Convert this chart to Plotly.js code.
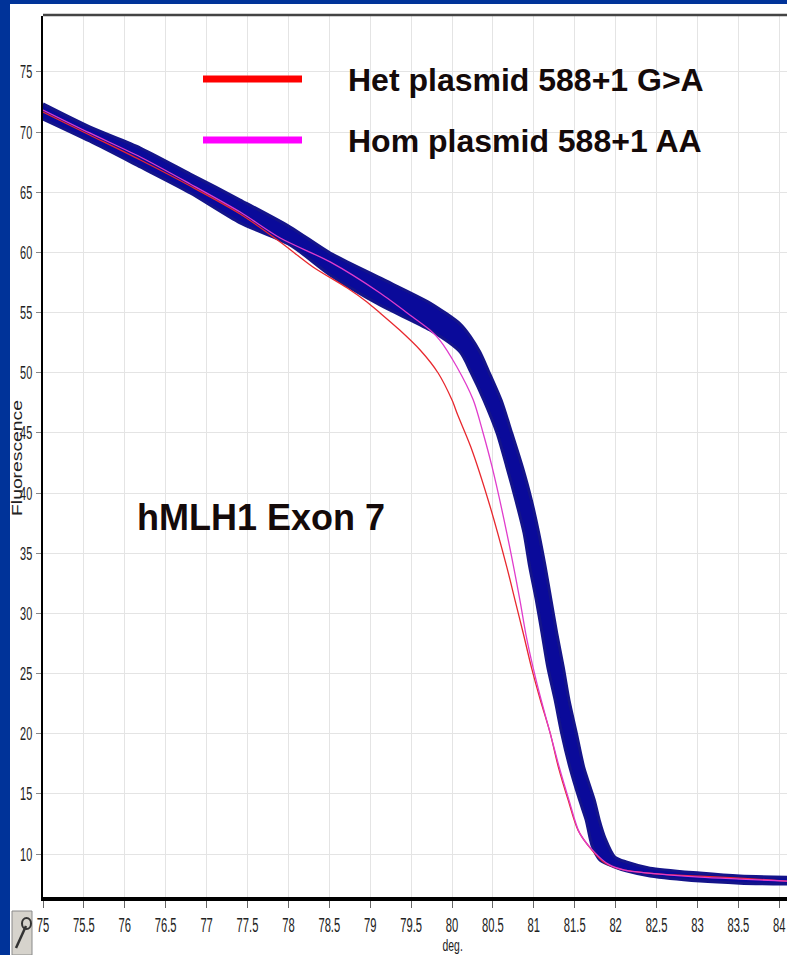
<!DOCTYPE html>
<html>
<head>
<meta charset="utf-8">
<script src="https://cdn.plot.ly/plotly-3.0.1.min.js"></script>
<style>
html,body{margin:0;padding:0;background:#003399;}
#chart{width:787px;height:955px;}
g.xtick{transform-box:fill-box;transform-origin:center;transform:scale(0.8,1.42);}
g.ytick{transform-box:fill-box;transform-origin:center;transform:scale(0.84,1.4);}
</style>
</head>
<body>
<div id="chart"></div>
<script>
// ---- data (deg. vs Fluorescence) ----
// blue band (many wild-type samples): upper/right edge and lower/left edge
const bandUpperX = [75.00,75.57,76.19,76.80,77.41,78.02,78.51,79.12,79.73,80.10,80.22,80.34,80.44,80.60,80.73,80.86,80.97,81.06,81.14,81.21,81.28,81.36,81.43,81.52,81.61,81.74,81.80,81.87,81.99,82.14,82.42,83.03,83.52,84.10];
const bandUpperY = [72.34,70.43,68.68,66.52,64.36,62.12,59.95,57.88,55.80,54.05,53.05,51.72,50.23,47.73,44.99,42.17,39.42,36.68,33.85,31.11,28.37,25.54,22.80,20.05,17.23,14.48,12.82,11.33,9.75,9.33,8.83,8.42,8.17,8.08];
const bandLowerX = [75.00,75.57,76.19,76.80,77.41,78.02,78.51,79.12,79.73,80.10,80.23,80.39,80.55,80.67,80.78,80.88,80.95,81.03,81.10,81.17,81.26,81.34,81.44,81.56,81.64,81.71,81.81,81.99,82.14,82.42,83.03,83.52,84.10];
const bandLowerY = [71.09,69.26,67.10,64.94,62.45,60.62,58.13,55.63,53.55,51.72,50.06,47.73,44.99,42.17,39.42,36.68,33.85,31.11,28.37,25.54,22.80,20.05,17.23,14.48,12.82,10.74,9.50,8.92,8.58,8.17,7.75,7.58,7.50];
// Het plasmid 588+1 G>A (red)
const hetX = [75.00,75.57,76.19,76.80,77.41,77.90,78.30,78.72,78.96,79.12,79.36,79.61,79.83,80.00,80.07,80.23,80.46,80.67,80.77,80.87,80.97,81.08,81.20,81.30,81.42,81.54,81.71,81.87,82.05,82.54,83.03,83.52,84.10];
const hetY = [71.67,69.76,67.68,65.52,63.20,60.87,58.79,57.04,55.88,54.97,53.55,51.89,49.98,47.73,46.49,43.83,39.01,33.85,31.11,28.37,25.54,22.80,20.05,17.23,14.48,11.99,10.33,9.25,8.75,8.33,8.17,8.00,7.75];
// Hom plasmid 588+1 AA (magenta)
const homX = [75.00,75.57,76.19,76.80,77.41,77.90,78.51,79.12,79.52,79.73,79.85,80.06,80.26,80.38,80.49,80.67,80.83,80.90,80.99,81.09,81.20,81.31,81.43,81.56,81.74,81.91,82.11,82.54,83.03,83.52,84.10];
const homY = [71.84,69.93,67.93,65.69,63.36,61.20,59.21,56.63,54.63,53.55,52.72,50.48,47.73,44.99,42.17,36.68,31.11,28.37,25.54,22.80,20.05,17.23,14.48,11.74,10.16,9.16,8.67,8.33,8.08,7.92,7.75];

const xTicks = [75,75.5,76,76.5,77,77.5,78,78.5,79,79.5,80,80.5,81,81.5,82,82.5,83,83.5,84];
const xTickText = ["75","75.5","76","76.5","77","77.5","78","78.5","79","79.5","80","80.5","81","81.5","82","82.5","83","83.5","84"];
const yTicks = [10,15,20,25,30,35,40,45,50,55,60,65,70,75];
const yTickText = ["10","15","20","25","30","35","40","45","50","55","60","65","70","75"];

const legendNames = ["Het plasmid 588+1 G>A", "Hom plasmid 588+1 AA"];
const chartLabel = "hMLH1 Exon 7";
const xTitle = "deg.";
const yTitle = "Fluorescence";

const narrow = "'Liberation Sans',Arial,sans-serif";
const bold = "'Liberation Sans',Arial,sans-serif";

const traces = [
  {x: bandUpperX, y: bandUpperY, mode: 'lines', line: {color: '#14148a', width: 3, shape: 'spline', smoothing: 0.7}, hoverinfo: 'skip', showlegend: false},
  {x: bandLowerX, y: bandLowerY, mode: 'lines', fill: 'tonexty', fillcolor: '#0a0a9a', line: {color: '#14148a', width: 3, shape: 'spline', smoothing: 0.7}, hoverinfo: 'skip', showlegend: false},
  {x: hetX, y: hetY, mode: 'lines', name: legendNames[0], line: {color: '#e8282e', width: 1.3, shape: 'spline', smoothing: 0.8}, showlegend: false},
  {x: homX, y: homY, mode: 'lines', name: legendNames[1], line: {color: '#e03ccc', width: 1.3, shape: 'spline', smoothing: 0.8}, showlegend: false}
];

const W = 744, H = 881, L = 43, B = 897;
const px = v => (v - L) / W;
const py = v => (B - v) / H;

const layout = {
  width: 787, height: 955,
  margin: {l: 43, r: 0, t: 16, b: 58},
  paper_bgcolor: '#003399',
  plot_bgcolor: '#ffffff',
  showlegend: false,
  xaxis: {
    range: [75, 84.095], tickvals: xTicks, ticktext: xTickText,
    showgrid: true, gridcolor: '#e4e4e4', gridwidth: 1, zeroline: false,
    showline: true, linecolor: '#000', linewidth: 4,
    ticks: 'outside', ticklen: 7, tickcolor: '#666', tickwidth: 1,
    ticklabelstandoff: 5, ticklabeloverflow: 'allow',
    tickfont: {family: narrow, size: 14, color: '#222'}
  },
  yaxis: {
    range: [6.43, 79.65], tickvals: yTicks, ticktext: yTickText,
    showgrid: true, gridcolor: '#e4e4e4', gridwidth: 1, zeroline: false,
    showline: true, linecolor: '#000', linewidth: 2,
    ticks: 'outside', ticklen: 5, tickcolor: '#888', tickwidth: 1,
    ticklabelstandoff: 0,
    tickfont: {family: narrow, size: 13, color: '#222'}
  },
  shapes: [
    {type: 'rect', xref: 'paper', yref: 'paper', x0: px(10), x1: 1.02, y0: -0.09, y1: py(4), fillcolor: '#ffffff', line: {width: 0}, layer: 'below'},
    {type: 'line', xref: 'paper', yref: 'paper', x0: 0, x1: 1.01, y0: py(15), y1: py(15), line: {color: '#444', width: 2.5}},
    {type: 'line', xref: 'paper', yref: 'paper', x0: px(203), x1: px(302), y0: py(79), y1: py(79), line: {color: '#ff0000', width: 7}},
    {type: 'line', xref: 'paper', yref: 'paper', x0: px(203), x1: px(302), y0: py(140), y1: py(140), line: {color: '#ff00ff', width: 7}},
    {type: 'rect', xref: 'paper', yref: 'paper', x0: px(12), x1: px(32), y0: py(955), y1: py(911), fillcolor: '#d6d3cc', line: {color: '#8a8a8a', width: 1}},
    {type: 'line', xref: 'paper', yref: 'paper', x0: px(16), x1: px(26), y0: py(948), y1: py(926), line: {color: '#333', width: 2.5}},
    {type: 'circle', xref: 'paper', yref: 'paper', x0: px(22), x1: px(31), y0: py(929), y1: py(918), line: {color: '#333', width: 2}}
  ],
  annotations: [
    {xref: 'paper', yref: 'paper', x: px(346), y: py(80), xanchor: 'left', yanchor: 'middle', text: legendNames[0], showarrow: false, font: {family: bold, size: 32, color: '#140a0a', weight: 'bold'}},
    {xref: 'paper', yref: 'paper', x: px(346), y: py(141), xanchor: 'left', yanchor: 'middle', text: legendNames[1], showarrow: false, font: {family: bold, size: 32, color: '#140a0a', weight: 'bold'}},
    {xref: 'paper', yref: 'paper', x: px(135), y: py(517), xanchor: 'left', yanchor: 'middle', text: chartLabel, showarrow: false, font: {family: bold, size: 36, color: '#140a0a', weight: 'bold'}},
    {xref: 'x', yref: 'paper', x: 80.0, y: py(945), xanchor: 'center', yanchor: 'middle', text: xTitle, showarrow: false, font: {family: narrow, size: 13, color: '#222'}},
    {xref: 'paper', yref: 'paper', x: px(17), y: py(458), xanchor: 'center', yanchor: 'middle', textangle: -90, text: yTitle, showarrow: false, font: {family: narrow, size: 14, color: '#222'}}
  ]
};

Plotly.newPlot('chart', traces, layout, {displayModeBar: false, staticPlot: true}).then(function () {
  document.querySelectorAll('text.annotation-text').forEach(function (t) {
    var s = null;
    if (t.textContent === xTitle) s = 'scale(0.8,1.2)';
    if (t.textContent === yTitle) s = 'scale(1.38,1)';
    if (s) {
      t.style.transformBox = 'fill-box';
      t.style.transformOrigin = 'center';
      t.style.transform = s;
    }
  });
});
</script>
</body>
</html>
